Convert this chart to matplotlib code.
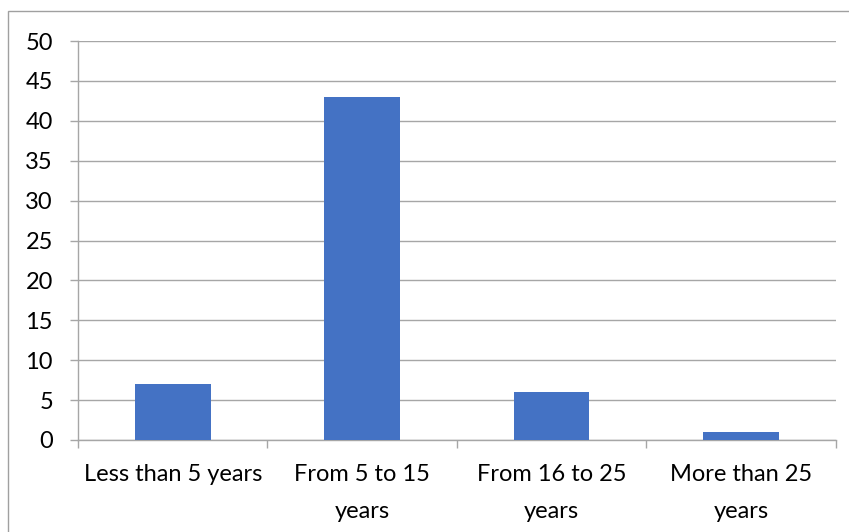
import matplotlib
matplotlib.use("Agg")
import matplotlib.pyplot as plt
from matplotlib.patches import Rectangle

categories = ["Less than 5 years", "From 5 to 15\nyears", "From 16 to 25\nyears", "More than 25\nyears"]
values = [7, 43, 6, 1]
y_ticks = [0, 5, 10, 15, 20, 25, 30, 35, 40, 45, 50]

plt.rcParams['font.family'] = ['Lato', 'DejaVu Sans']

W, H = 849, 532
fig = plt.figure(figsize=(W / 100, H / 100), dpi=100)
fig.patch.set_facecolor("white")

# outer chart frame
frame = Rectangle((8 / W, -0.1), 1.2, 1 - 11 / H + 0.1, transform=fig.transFigure,
                  fill=False, edgecolor="#A0A0A0", linewidth=1.0)
fig.patches.append(frame)

left, right = 78 / W, 835.7 / W
bottom, top = (H - 440) / H, (H - 41) / H
ax = fig.add_axes([left, bottom, right - left, top - bottom])

grid_c = "#A6A6A6"
x = list(range(len(categories)))
ax.bar(x, values, width=0.40, color="#4472C4", zorder=3)

ax.set_xlim(-0.5, len(categories) - 0.5)
ax.set_ylim(0, 50)
ax.set_yticks(y_ticks)
ax.set_yticklabels([str(t) for t in y_ticks])
ax.yaxis.grid(True, color=grid_c, linewidth=1.0, zorder=0)

# category labels centred, ticks on category boundaries
ax.set_xticks(x)
ax.set_xticklabels(categories, linespacing=1.95)
ax.set_xticks([i - 0.5 for i in range(len(categories) + 1)], minor=True)
ax.tick_params(axis="x", which="major", length=0, pad=17, labelsize=17, labelcolor="#000000")
ax.tick_params(axis="x", which="minor", length=6, width=1.0, color=grid_c, direction="out")
ax.tick_params(axis="y", which="major", length=6, width=1.0, color=grid_c, pad=12,
               labelsize=17, labelcolor="#000000")

for s in ["top", "right"]:
    ax.spines[s].set_visible(False)
ax.spines["left"].set_color(grid_c)
ax.spines["bottom"].set_color(grid_c)
ax.spines["left"].set_linewidth(1.0)
ax.spines["bottom"].set_linewidth(1.0)
ax.set_axisbelow(True)

fig.savefig("out.png", dpi=100, facecolor="white")
